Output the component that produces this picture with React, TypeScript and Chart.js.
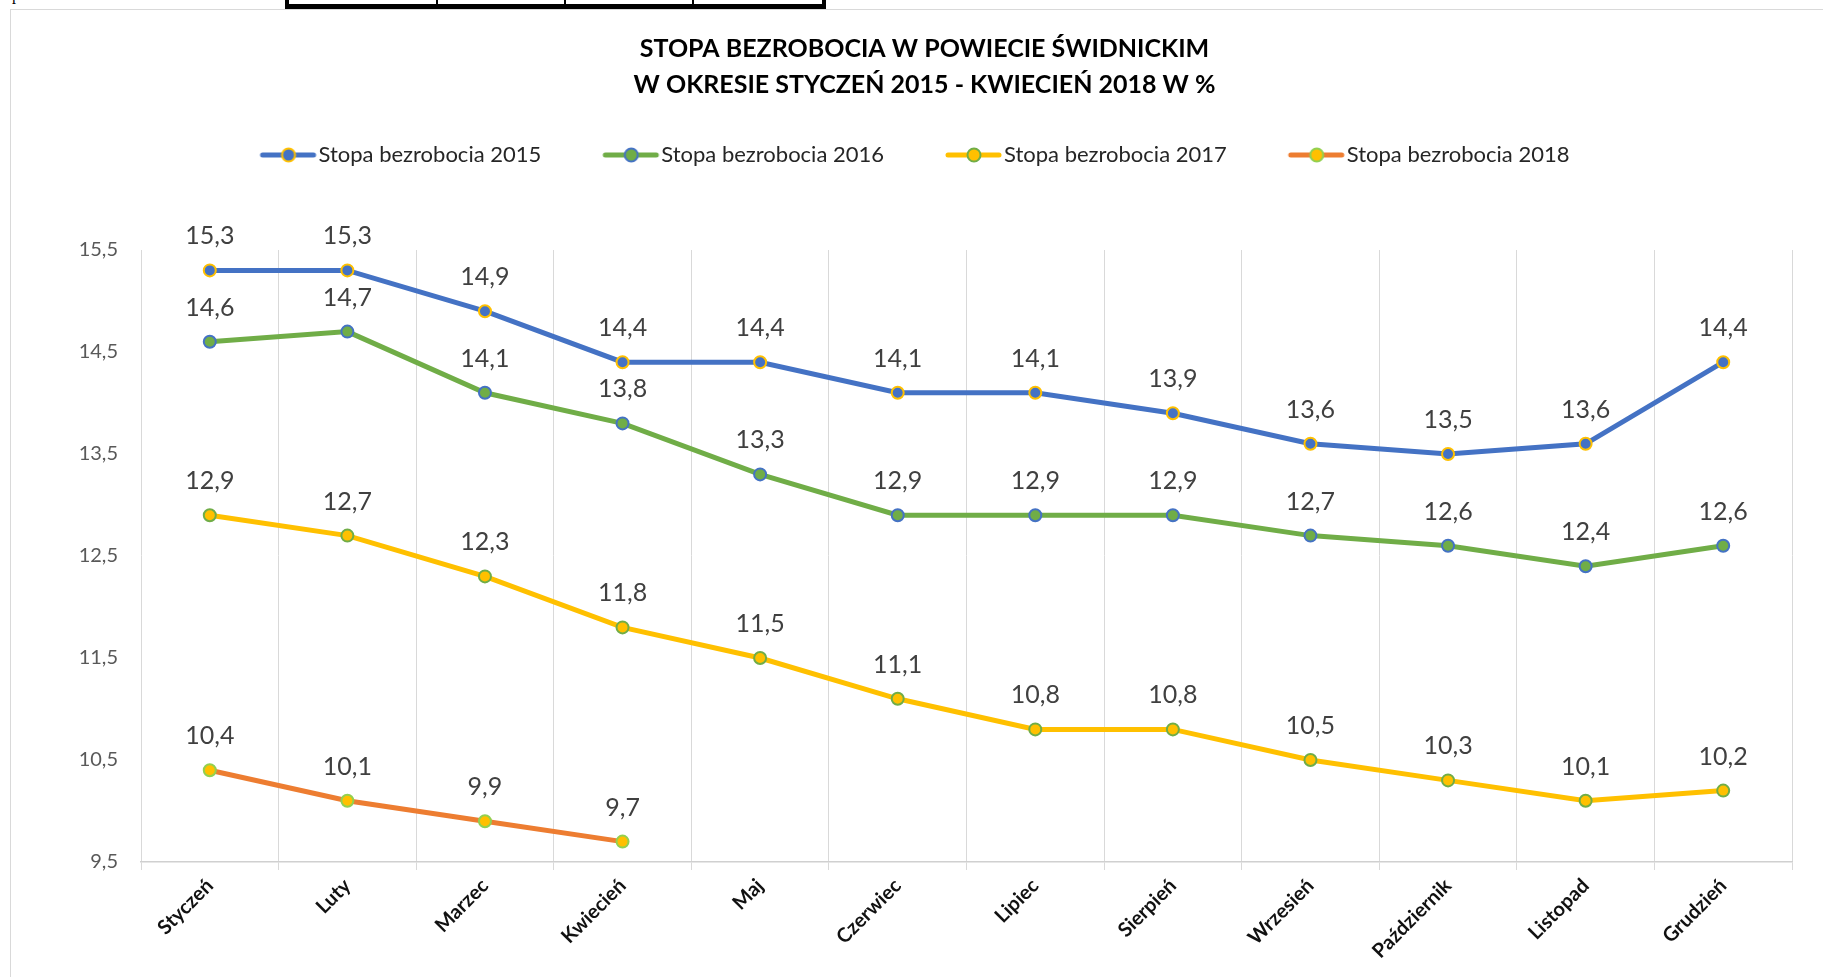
import React, { useEffect, useRef } from 'react';
import { Chart, registerables } from 'chart.js';

Chart.register(...registerables);

const months = ['Styczeń', 'Luty', 'Marzec', 'Kwiecień', 'Maj', 'Czerwiec', 'Lipiec', 'Sierpień', 'Wrzesień', 'Październik', 'Listopad', 'Grudzień'];
const rate2015 = [15.3, 15.3, 14.9, 14.4, 14.4, 14.1, 14.1, 13.9, 13.6, 13.5, 13.6, 14.4];
const rate2016 = [14.6, 14.7, 14.1, 13.8, 13.3, 12.9, 12.9, 12.9, 12.7, 12.6, 12.4, 12.6];
const rate2017 = [12.9, 12.7, 12.3, 11.8, 11.5, 11.1, 10.8, 10.8, 10.5, 10.3, 10.1, 10.2];
const rate2018 = [10.4, 10.1, 9.9, 9.7, null, null, null, null, null, null, null, null];
const seriesNames = ['Stopa bezrobocia 2015', 'Stopa bezrobocia 2016', 'Stopa bezrobocia 2017', 'Stopa bezrobocia 2018'];
const yTickValues = [9.5, 10.5, 11.5, 12.5, 13.5, 14.5, 15.5];
const titleLines = ['STOPA BEZROBOCIA W POWIECIE ŚWIDNICKIM', 'W OKRESIE STYCZEŃ 2015 - KWIECIEŃ 2018 W %'];

const BLUE = '#4472C4';
const GREEN = '#70AD47';
const GOLD = '#FFC000';
const ORANGE = '#ED7D31';
const LIGHTGREEN = '#92D050';

const FONT = 'Lato, "Open Sans", sans-serif';
const fmt = (v: number) => v.toFixed(1).replace('.', ',');

const LEGEND_BOX = 68;
const LEGEND_SHIFT = -20;

function legendIcon(line: string, fill: string, stroke: string) {
  const W = LEGEND_BOX + 20;
  const c = document.createElement('canvas');
  c.width = W;
  c.height = 18;
  const g = c.getContext('2d')!;
  g.strokeStyle = line;
  g.lineWidth = 5;
  g.lineCap = 'round';
  g.beginPath();
  g.moveTo(W - 55, 9);
  g.lineTo(W - 4, 9);
  g.stroke();
  g.beginPath();
  g.arc(W - 29, 9, 6.5, 0, Math.PI * 2);
  g.fillStyle = fill;
  g.fill();
  g.lineWidth = 2;
  g.strokeStyle = stroke;
  g.stroke();
  return c;
}

const valueLabels = {
  id: 'valueLabels',
  afterDatasetsDraw(chart: any) {
    const ctx = chart.ctx;
    ctx.save();
    ctx.font = `25px ${FONT}`;
    ctx.fillStyle = '#404040';
    ctx.textAlign = 'center';
    ctx.textBaseline = 'middle';
    chart.data.datasets.forEach((ds: any, i: number) => {
      const meta = chart.getDatasetMeta(i);
      meta.data.forEach((pt: any, j: number) => {
        const v = ds.data[j];
        if (v == null) return;
        ctx.fillText(fmt(v), pt.x, pt.y - 34);
      });
    });
    ctx.restore();
  },
};

const legendNudge = {
  id: 'legendNudge',
  afterLayout(chart: any) {
    const lg = chart.legend;
    if (lg) {
      lg.left += LEGEND_SHIFT;
      lg.right += LEGEND_SHIFT;
    }
  },
};

export default function App() {
  const ref = useRef<HTMLCanvasElement>(null);

  useEffect(() => {
    const icons = [
      legendIcon(BLUE, BLUE, GOLD),
      legendIcon(GREEN, GREEN, BLUE),
      legendIcon(GOLD, GOLD, GREEN),
      legendIcon(ORANGE, GOLD, LIGHTGREEN),
    ];
    const mk = (label: string, data: any[], line: string, fill: string, stroke: string) => ({
      label,
      data,
      borderColor: line,
      backgroundColor: line,
      borderWidth: 5,
      tension: 0,
      pointRadius: 6,
      pointHoverRadius: 6,
      pointBorderWidth: 2,
      pointBackgroundColor: fill,
      pointBorderColor: stroke,
      xAxisID: 'x',
      yAxisID: 'y',
    });
    const chart = new Chart(ref.current!, {
      type: 'line',
      data: {
        labels: months,
        datasets: [
          mk(seriesNames[0], rate2015, BLUE, BLUE, GOLD),
          mk(seriesNames[1], rate2016, GREEN, GREEN, BLUE),
          mk(seriesNames[2], rate2017, GOLD, GOLD, GREEN),
          mk(seriesNames[3], rate2018, ORANGE, GOLD, LIGHTGREEN),
        ],
      },
      options: {
        responsive: false,
        animation: false,
        devicePixelRatio: 1,
        layout: { padding: { left: 46, right: 31, top: 0, bottom: 0 } },
        plugins: {
          tooltip: { enabled: false },
          title: {
            display: true,
            text: titleLines,
            color: '#000000',
            font: { family: FONT, size: 25, weight: 'bold', lineHeight: 36 / 25 },
            padding: { top: 21, bottom: 0 },
          },
          legend: {
            display: true,
            position: 'top',
            labels: {
              usePointStyle: true,
              pointStyleWidth: LEGEND_BOX,
              padding: 41,
              color: '#262626',
              font: { family: FONT, size: 22 },
              generateLabels: (ch: any) => {
                const items = Chart.defaults.plugins.legend.labels.generateLabels(ch);
                return items.map((it: any, i: number) => ({ ...it, pointStyle: icons[i], rotation: 0 }));
              },
            },
          },
        },
        scales: {
          x: {
            type: 'category',
            position: 'bottom',
            offset: true,
            grid: { display: true, offset: true, color: '#d9d9d9', lineWidth: 1, drawTicks: true, tickLength: 8 },
            border: { display: true, color: '#d0d0d0', width: 1.5 },
            ticks: {
              autoSkip: false,
              minRotation: 45,
              maxRotation: 45,
              padding: 4,
              color: '#111111',
              font: { family: FONT, size: 20, weight: 'bold' },
            },
            afterFit: (s: any) => { s.height = 115; },
          },
          xTop: {
            type: 'category',
            position: 'top',
            labels: months,
            grid: { display: false, drawTicks: false },
            border: { display: false },
            ticks: { display: false },
            afterFit: (s: any) => { s.height = 74; },
          },
          y: {
            type: 'linear',
            position: 'left',
            min: 9.5,
            max: 15.5,
            grid: { display: false, drawTicks: false },
            border: { display: false },
            afterBuildTicks: (s: any) => { s.ticks = yTickValues.map((v) => ({ value: v })); },
            ticks: {
              padding: 23,
              color: '#595959',
              font: { family: FONT, size: 20 },
              callback: (v: any) => fmt(Number(v)),
            },
            afterFit: (s: any) => { s.width = 84; },
          },
        },
      },
      plugins: [valueLabels, legendNudge],
    });
    return () => chart.destroy();
  }, []);

  return (
    <div style={{ position: 'absolute', left: 0, top: 0, width: 1823, height: 977, overflow: 'hidden', background: '#ffffff' }}>
      <div style={{ position: 'absolute', left: 12, top: -13, fontFamily: '"Liberation Serif", serif', fontSize: 16, lineHeight: '16px', color: '#000' }}>p</div>
      <div style={{ position: 'absolute', left: 285, top: -10, width: 533, height: 14, borderLeft: '4px solid #000', borderRight: '4px solid #000', borderBottom: '5px solid #000' }} />
      <div style={{ position: 'absolute', left: 436, top: 0, width: 1.5, height: 5, background: '#000' }} />
      <div style={{ position: 'absolute', left: 564, top: 0, width: 1.5, height: 5, background: '#000' }} />
      <div style={{ position: 'absolute', left: 692, top: 0, width: 1.5, height: 5, background: '#000' }} />
      <div style={{ position: 'absolute', left: 10, top: 9, width: 1830, height: 1000, border: '1px solid #d9d9d9', boxSizing: 'border-box', background: '#ffffff' }}>
        <canvas ref={ref} width={1812} height={967} style={{ position: 'absolute', left: 0, top: 0, width: 1812, height: 967 }} />
      </div>
    </div>
  );
}
